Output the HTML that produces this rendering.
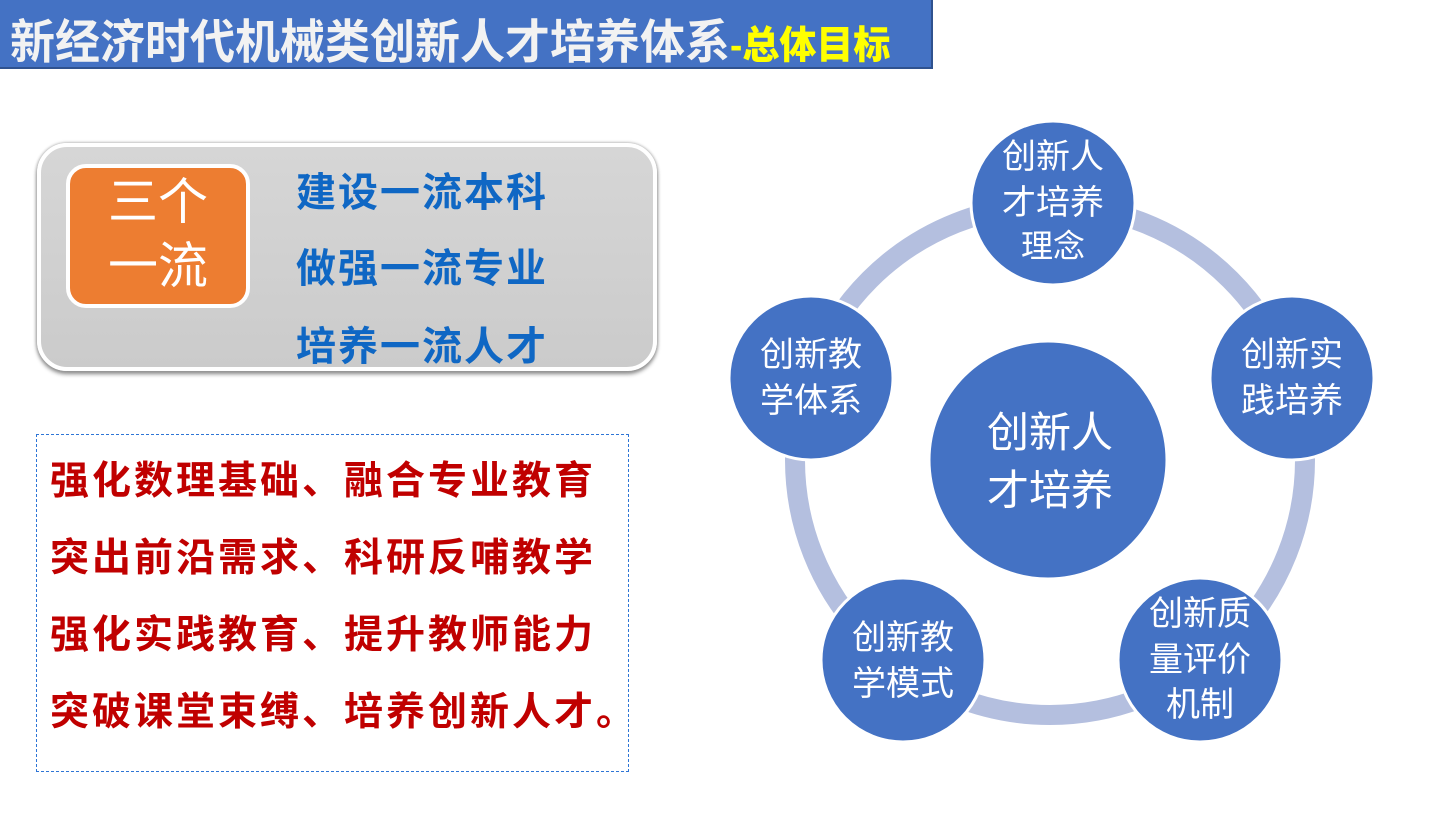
<!DOCTYPE html>
<html><head><meta charset="utf-8"><style>
body{margin:0;width:1453px;height:813px;background:#fff;position:relative;overflow:hidden;font-family:"Liberation Sans","Noto Sans CJK SC",sans-serif}
.hdr{position:absolute;left:0;top:0;width:931px;height:67px;background:#4472c4;border-bottom:2px solid #2f528f;border-right:2px solid #2f528f}
.hdr span{position:absolute;left:10px;top:4px;font-size:45px;font-weight:bold;color:#f2f2f2;white-space:nowrap;transform:scaleY(1.05);transform-origin:left top}
.hdr b{color:#ffff00;font-size:37px}
.box{position:absolute;left:37px;top:143px;width:612px;height:220px;border-radius:30px;background:linear-gradient(#d6d6d6,#cbcbcb);border:4px solid #fff;box-shadow:0 0 3px #999,0 3px 4px #888}
.or{position:absolute;left:66px;top:164px;width:176px;height:134px;background:#ed7d31;border:4px solid #fff;border-radius:20px;color:#fff;font-size:50px;line-height:64px;text-align:center;padding-top:2px;box-sizing:content-box}
.bl{position:absolute;left:296px;font-size:40px;font-weight:bold;color:#0f67c4;letter-spacing:2px}
.dash{position:absolute;left:36px;top:434px;width:591px;height:336px;border:1px dashed #2e75d6}
.rd{position:absolute;left:50px;font-size:39px;font-weight:bold;color:#c00000;white-space:nowrap;letter-spacing:3px}
</style></head><body>
<div class="hdr"><span>新经济时代机械类创新人才培养体系<b>-总体目标</b></span></div>
<div class="box"></div>
<div class="or">三个<br>一流</div>
<div class="bl" style="top:160px">建设一流本科</div>
<div class="bl" style="top:236px">做强一流专业</div>
<div class="bl" style="top:314px">培养一流人才</div>
<div class="dash"></div>
<div class="rd" style="top:450px">强化数理基础、融合专业教育</div>
<div class="rd" style="top:527px">突出前沿需求、科研反哺教学</div>
<div class="rd" style="top:604px">强化实践教育、提升教师能力</div>
<div class="rd" style="top:681px">突破课堂束缚、培养创新人才。</div>
<svg style="position:absolute;left:0;top:0" width="1453" height="813">
<circle cx="1050" cy="460" r="255" fill="none" stroke="#b4bfdf" stroke-width="20"/>
<g fill="#4472c4" stroke="#fff" stroke-width="3">
<circle cx="1048" cy="460" r="119"/>
<circle cx="1053" cy="203" r="82"/>
<circle cx="1292" cy="378" r="82"/>
<circle cx="1200" cy="660" r="82"/>
<circle cx="903" cy="660" r="82"/>
<circle cx="811" cy="378" r="82"/>
</g>
<g fill="#fff" font-family="Liberation Sans,Noto Sans CJK SC,sans-serif" text-anchor="middle" font-size="34">
<text x="1053" y="168">创新人</text><text x="1053" y="214">才培养</text><text x="1053" y="257" font-size="32">理念</text>
<text x="1292" y="366">创新实</text><text x="1292" y="412">践培养</text>
<text x="1200" y="625">创新质</text><text x="1200" y="671">量评价</text><text x="1200" y="716">机制</text>
<text x="903" y="649">创新教</text><text x="903" y="695">学模式</text>
<text x="811" y="366">创新教</text><text x="811" y="412">学体系</text>
<text x="1050" y="447" font-size="42">创新人</text><text x="1050" y="505" font-size="42">才培养</text>
</g>
</svg>
</body></html>
